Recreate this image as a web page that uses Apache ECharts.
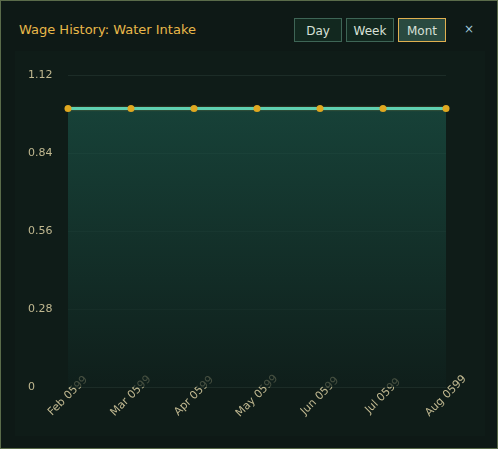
<!DOCTYPE html>
<html><head><meta charset="utf-8">
<script src="https://cdn.jsdelivr.net/npm/echarts@6/dist/echarts.min.js"></script>
<style>
body{margin:0;background:#0f1a17;}
#wrap{position:absolute;left:0;top:0;width:496px;height:447px;border:1px solid #5a6b4a;background:#0e1916;font-family:"DejaVu Sans",sans-serif;}
#title{position:absolute;left:18px;top:21px;color:#e8b84a;font-size:13px;}
.btn{position:absolute;top:17px;height:24px;line-height:24px;text-align:center;font-size:12px;color:#d8e0d8;background:#12281f;border:1px solid #3e6556;box-sizing:border-box;}
#x{position:absolute;left:463px;top:21px;color:#9fc8d8;font-size:12px;}
#panel{position:absolute;left:14px;top:50px;width:470px;height:385px;background:#0f1c18;}
#chart{position:absolute;left:0;top:50px;width:498px;height:399px;}
</style></head><body>
<div id="wrap">
<div id="title">Wage History: Water Intake</div>
<div class="btn" style="left:293px;width:48px;">Day</div>
<div class="btn" style="left:345px;width:48px;">Week</div>
<div class="btn" style="left:397px;width:48px;background:#2a4a40;border-color:#e0b050;">Mont</div>
<div id="x">×</div>
<div id="panel"></div>
</div>
<div id="chart"></div>
<script>
const categories=["Feb 0599","Mar 0599","Apr 0599","May 0599","Jun 0599","Jul 0599","Aug 0599"];
const values=[1,1,1,1,1,1,1];
const yTicks=[0,0.28,0.56,0.84,1.12];
const c=echarts.init(document.getElementById('chart'));
c.setOption({
 grid:{left:68,right:52,top:25,bottom:62},
 xAxis:{type:'category',boundaryGap:false,data:categories,
  axisLine:{show:false},axisTick:{show:false},
  axisLabel:{rotate:45,align:'center',verticalAlign:'middle',margin:9,color:'#c0b890',fontSize:11,fontFamily:'DejaVu Sans'}},
 yAxis:{type:'value',min:0,max:1.12,interval:0.28,
  axisLabel:{color:'#c0b890',fontSize:11,fontFamily:'DejaVu Sans',margin:40,align:'left',formatter:v=>yTicks.find(t=>Math.abs(t-v)<1e-6)+''},
  splitLine:{lineStyle:{color:'#1c2c27'}}},
 series:[{type:'line',data:values,symbol:'circle',symbolSize:7,
  itemStyle:{color:'#e0a820'},
  lineStyle:{color:'#5fd0b0',width:3,shadowColor:'#6a6a3a',shadowBlur:2},
  areaStyle:{color:new echarts.graphic.LinearGradient(0,0,0,1,[{offset:0,color:'#1b5246'},{offset:1,color:'#10201c'}])}}]
});
</script></body></html>
